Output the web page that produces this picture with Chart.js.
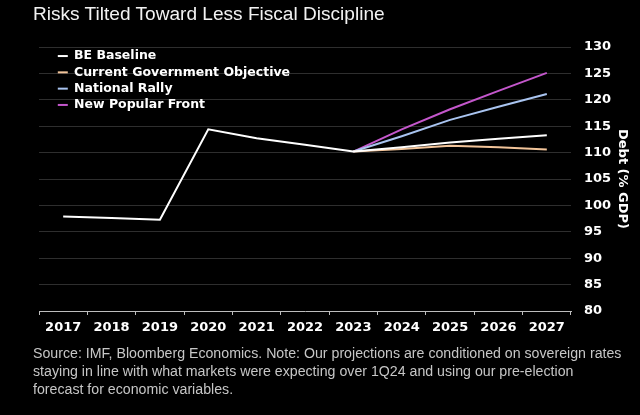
<!DOCTYPE html>
<html>
<head>
<meta charset="utf-8">
<script src="https://cdn.jsdelivr.net/npm/chart.js@4/dist/chart.umd.min.js"></script>
<style>
html,body{margin:0;padding:0;background:#000;width:640px;height:415px;overflow:hidden}
#wrap{position:relative;width:640px;height:415px;background:#000}
#c{position:absolute;left:0;top:0}
#title{position:absolute;left:33px;top:3px;font-family:"Liberation Sans",Arial,sans-serif;font-size:19px;line-height:22px;color:#f2f2f2;white-space:nowrap}
#source{position:absolute;left:33px;top:344px;font-family:"Liberation Sans",Arial,sans-serif;font-size:14px;line-height:18px;color:#c6c6c6;white-space:nowrap}
#source span{display:inline-block}
</style>
</head>
<body>
<div id="wrap">
  <canvas id="c" width="640" height="415"></canvas>
  <div id="title"><span id="tspan">Risks Tilted Toward Less Fiscal Discipline</span></div>
  <div id="source"><span id="s1">Source: IMF, Bloomberg Economics. Note: Our projections are conditioned on sovereign rates</span><br><span>staying in line with what markets were expecting over 1Q24 and using our pre-election</span><br><span>forecast for economic variables.</span></div>
</div>
<script>
// ---- data ----
const categories = ['2017','2018','2019','2020','2021','2022','2023','2024','2025','2026','2027'];
const beBaseline = [97.9, 97.6, 97.3, 114.4, 112.7, 111.5, 110.2, 111.0, 111.9, 112.6, 113.3];
const govObjective = [null, null, null, null, null, null, 110.2, 110.7, 111.3, 111.0, 110.6];
const nationalRally = [null, null, null, null, null, null, 110.2, 113.1, 116.2, 118.7, 121.1];
const newPopularFront = [null, null, null, null, null, null, 110.2, 114.4, 118.2, 121.7, 125.1];
const seriesNames = ['BE Baseline', 'Current Government Objective', 'National Rally', 'New Popular Front'];
const yMin = 80, yMax = 130, yStep = 5;
const yTitle = 'Debt (% GDP)';

// fit header/footer text widths
function fitWidth(el, target) {
  const fs = parseFloat(getComputedStyle(el).fontSize);
  const w = el.getBoundingClientRect().width;
  return fs * target / w;
}
const tfs = fitWidth(document.getElementById('tspan'), 352);
document.getElementById('title').style.fontSize = tfs + 'px';
const sfs = fitWidth(document.getElementById('s1'), 589);
document.getElementById('source').style.fontSize = sfs + 'px';

Chart.defaults.font.family = '"DejaVu Sans", Verdana, sans-serif';
Chart.defaults.color = '#ffffff';

const legendPlace = {
  id: 'legendPlace',
  afterLayout(chart) {
    const lg = chart.legend;
    if (!lg) return;
    const w = lg.width, h = lg.height;
    lg.left = chart.chartArea.left + 15;
    lg.top = chart.chartArea.top - 1;
    lg.right = lg.left + w;
    lg.bottom = lg.top + h;
  }
};

const mk = (label, data, color) => ({
  label, data,
  borderColor: color, backgroundColor: color,
  borderWidth: 2, pointRadius: 0, tension: 0, fill: false
});

new Chart(document.getElementById('c'), {
  type: 'line',
  data: {
    labels: categories,
    datasets: [
      mk(seriesNames[0], beBaseline, '#ffffff'),
      mk(seriesNames[1], govObjective, '#f2c49a'),
      mk(seriesNames[2], nationalRally, '#a9c4f0'),
      mk(seriesNames[3], newPopularFront, '#c457cc')
    ]
  },
  plugins: [legendPlace],
  options: {
    responsive: false,
    animation: false,
    events: [],
    layout: { padding: { left: 39, top: 47, right: 6, bottom: 79 } },
    plugins: {
      title: { display: false },
      tooltip: { enabled: false },
      legend: {
        display: true,
        position: 'chartArea',
        align: 'start',
        labels: {
          color: '#ffffff',
          font: { size: 12.5, weight: 'bold' },
          usePointStyle: true,
          pointStyle: 'line',
          pointStyleWidth: 10,
          padding: 3.8
        }
      }
    },
    scales: {
      x: {
        type: 'category',
        offset: true,
        grid: { display: true, drawOnChartArea: false, offset: true, drawTicks: true, tickLength: 4, color: '#bdbdbd', lineWidth: 1 },
        border: { display: true, color: '#bdbdbd', width: 1 },
        ticks: { color: '#ffffff', font: { size: 13, weight: 'bold' }, padding: 5, maxRotation: 0, autoSkip: false },
        afterFit(s) { s.height = 25; }
      },
      y: {
        position: 'right',
        min: yMin, max: yMax,
        grid: { color: (ctx) => (ctx.tick && ctx.tick.value === yMin) ? 'rgba(0,0,0,0)' : '#2e2e2e', drawTicks: false, lineWidth: 1 },
        border: { display: false },
        ticks: { stepSize: yStep, color: '#ffffff', font: { size: 13, weight: 'bold' }, padding: 13 },
        title: { display: true, text: yTitle, color: '#ffffff', font: { size: 13, weight: 'bold' }, padding: { top: 4, bottom: 0 } },
        afterFit(s) { s.width = 63; }
      }
    }
  }
});
</script>
</body>
</html>
